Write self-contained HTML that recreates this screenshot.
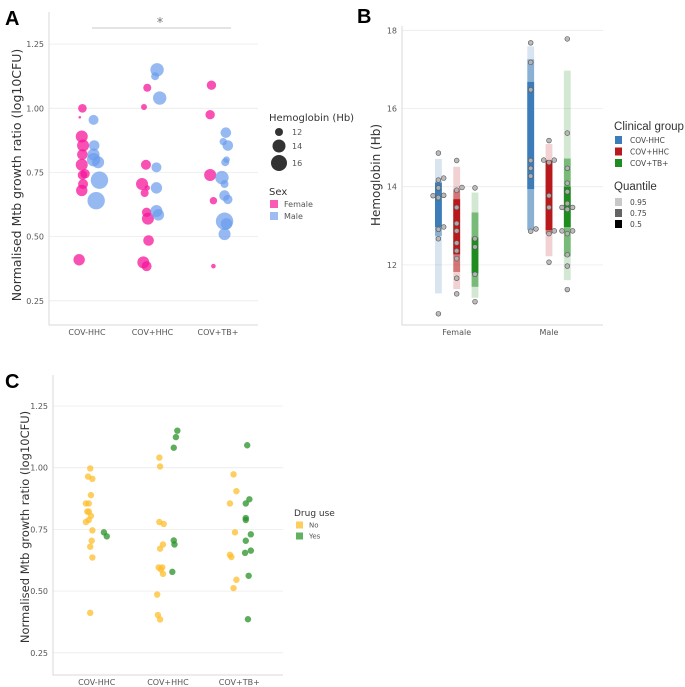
<!DOCTYPE html>
<html><head><meta charset="utf-8"><style>
body{margin:0;background:#fff;}
svg{display:block;font-family:"DejaVu Sans","Liberation Sans",sans-serif;}
.tick{font-size:8px;fill:#555;}
.grid{stroke:#ebebeb;stroke-width:0.8;}
.axis{stroke:#d9d9d9;stroke-width:1;}
</style></head><body>
<svg id="fig" width="685" height="687" viewBox="0 0 685 687">
<text x="5" y="25" font-size="20" font-weight="bold" font-family="Liberation Sans">A</text>
<text x="357" y="23" font-size="20" font-weight="bold" font-family="Liberation Sans">B</text>
<text x="5" y="388" font-size="20" font-weight="bold" font-family="Liberation Sans">C</text>
<g id="pa"></g>
<g id="pb"></g>
<g id="pc"></g>
</svg>
<script>
// ---------- Data ----------
const groups = ["COV-HHC","COV+HHC","COV+TB+"];
const yTicksA = [0.25,0.50,0.75,1.00,1.25];
// Panel A: group index, jitter (category units), value, Hb, sex
const aGroup = [0,0,0,0,0,0,0,0,0,0,0, 0,0,0,0,0,0,0, 1,1,1,1,1,1,1,1,1,1,1, 1,1,1,1,1,1,1, 2,2,2,2,2, 2,2,2,2,2,2,2,2,2,2,2,2];
const aJit = [-0.07,-0.11,-0.08,-0.06,-0.07,-0.08,-0.07,-0.03,-0.06,-0.08,-0.12, 0.1,0.11,0.1,0.1,0.17,0.19,0.14, -0.08,-0.13,-0.1,-0.16,-0.12,-0.08,-0.09,-0.07,-0.06,-0.14,-0.09, 0.07,0.04,0.11,0.06,0.06,0.06,0.09, -0.1,-0.12,-0.12,-0.07,-0.07, 0.12,0.08,0.15,0.11,0.13,0.06,0.1,0.1,0.15,0.1,0.13,0.1];
const aVal = [1.00,0.965,0.89,0.855,0.82,0.78,0.74,0.745,0.705,0.68,0.41, 0.955,0.855,0.82,0.80,0.79,0.72,0.64, 1.08,1.005,0.78,0.705,0.67,0.69,0.595,0.57,0.485,0.40,0.385, 1.15,1.125,1.04,0.77,0.69,0.60,0.585, 1.09,0.975,0.74,0.64,0.385, 0.905,0.87,0.855,0.79,0.80,0.73,0.705,0.66,0.645,0.56,0.55,0.51];
const aHb = [11.8,8.8,13.5,13.5,12.8,13.5,12.2,12.2,12.5,13.2,13.2, 12.5,12.8,13.5,14.2,13.5,16.2,16.2, 11.5,10.5,12.5,13.5,11.5,10.2,12.2,13.5,12.8,13.5,12.5, 14.2,11.5,14.2,12.5,13.2,13.5,13.2, 12.2,12.2,13.5,11.2,9.8, 12.8,11.2,12.8,11.5,10.8,14.2,11.5,12.8,12.2,16.2,13.2,13.5];
const aSex = "FFFFFFFFFFFMMMMMMMFFFFFFFFFFFMMMMMMMFFFFFMMMMMMMMMMMM";
const hbLegend = [12,14,16];
// Panel B
const sexes = ["Female","Male"];
const yTicksB = [12,14,16,18];
const quantiles = ["0.95","0.75","0.5"];
// quantile bands: [sex][group] -> [lo95,hi95,lo75,hi75,lo50,hi50]
const bands = [
 [[11.27,14.71,12.74,14.13,12.97,14.10],[11.38,14.51,11.82,13.93,12.27,13.68],[11.16,13.85,11.44,13.34,11.79,12.70]],
 [[12.89,17.59,12.89,17.26,13.94,16.68],[12.22,15.09,12.80,14.68,12.89,14.66],[11.61,16.97,12.22,14.72,12.97,14.00]]
];
const bSex = [0,0,0,0,0,0,0,0,0,0,0, 0,0,0,0,0,0,0,0,0,0,0, 0,0,0,0,0, 1,1,1,1,1,1,1,1, 1,1,1,1,1,1,1,1,1, 1,1,1,1,1,1,1,1,1,1,1,1,1,1,1];
const bGrp = [0,0,0,0,0,0,0,0,0,0,0, 1,1,1,1,1,1,1,1,1,1,1, 2,2,2,2,2, 0,0,0,0,0,0,0,0, 1,1,1,1,1,1,1,1,1, 2,2,2,2,2,2,2,2,2,2,2,2,2,2,2];
const bJit = [0,0,1,0,-1,0,1,0,1,0,0, 0,1,0,0,0,0,0,0,0,0,0, 0,0,0,0,0, 0,0,0,0,0,0,0,1, 0,-1,0,1,0,0,0,1,0, 0,0,0,0,0,0,-1,1,0,-1,1,0,0,0,0];
const bHb = [14.86,14.17,14.22,13.97,13.77,13.72,13.78,12.91,12.97,12.67,10.75, 14.67,13.98,13.91,13.47,13.06,12.87,12.56,12.36,12.16,11.66,11.26, 13.97,12.67,12.46,11.76,11.06, 17.68,17.18,16.48,14.67,14.47,14.27,12.86,12.92, 15.18,14.68,14.62,14.68,13.77,13.47,12.80,12.87,12.07, 17.78,15.37,14.47,14.09,13.87,13.57,13.47,13.47,13.42,12.87,12.87,12.80,12.26,11.97,11.37];
// Panel C
const drugLevels = ["No","Yes"];
const cGroup = [0,0,0,0,0,0,0,0,0,0,0,0,0,0,0,0, 0,0, 1,1,1,1,1,1,1,1,1,1,1,1,1, 1,1,1,1,1,1, 2,2,2,2,2,2,2,2, 2,2,2,2,2,2,2,2,2,2,2];
const cDrug = "NNNNNNNNNNNNNNNNYYNNNNNNNNNNNNNYYYYYYNNNNNNNNYYYYYYYYYYY";
const cJit = [-0.09,-0.12,-0.06,-0.08,-0.15,-0.11,-0.13,-0.11,-0.08,-0.11,-0.15,-0.06,-0.07,-0.09,-0.06,-0.09, 0.1,0.14, -0.12,-0.11,-0.12,-0.06,-0.07,-0.11,-0.13,-0.08,-0.10,-0.07,-0.15,-0.14,-0.11, 0.13,0.11,0.08,0.08,0.09,0.06, -0.08,-0.04,-0.13,-0.06,-0.13,-0.11,-0.04,-0.08, 0.11,0.14,0.09,0.09,0.09,0.16,0.09,0.16,0.08,0.13,0.12];
const cVal = [0.997,0.964,0.955,0.889,0.855,0.855,0.822,0.822,0.805,0.788,0.780,0.746,0.704,0.680,0.636,0.412, 0.738,0.722, 1.041,1.005,0.780,0.772,0.689,0.672,0.596,0.596,0.588,0.570,0.486,0.403,0.385, 1.150,1.124,1.081,0.705,0.689,0.578, 0.973,0.905,0.855,0.738,0.647,0.638,0.546,0.512, 1.091,0.872,0.855,0.796,0.788,0.730,0.704,0.664,0.655,0.562,0.386];

// ---------- helpers ----------
const NS="http://www.w3.org/2000/svg";
function mk(parent,tag,attrs,txt){const e=document.createElementNS(NS,tag);for(const k in attrs)e.setAttribute(k,attrs[k]);if(txt!==undefined)e.textContent=txt;parent.appendChild(e);return e;}

// ---------- Panel A ----------
(function(){
 const g=document.getElementById('pa');
 const L=49,R=258,T=12,B=325;
 const y=v=>108.3-(v-1.0)*256.7;
 const x=(i,j)=>87+i*65.5+j*65.5;
 yTicksA.forEach(t=>{
  const l=mk(g,'line',{x1:L,x2:R,y1:y(t),y2:y(t),class:'grid'});
  
  const tx=mk(g,'text',{x:L-5,y:y(t)+3,'text-anchor':'end',class:'tick'},t.toFixed(2));
  
 });
 let ax=mk(g,'path',{d:`M${L} ${T} V${B} H${R}`,fill:'none',class:'axis'});
 
 groups.forEach((c,i)=>{const t=mk(g,'text',{x:x(i,0),y:335,'text-anchor':'middle',class:'tick'},c);
  });
 const yt=mk(g,'text',{x:0,y:0,transform:'translate(21,175) rotate(-90)','text-anchor':'middle','font-size':'12.5',fill:'#333'},'Normalised Mtb growth ratio (log10CFU)');
 
 const sl=mk(g,'line',{x1:92,x2:231,y1:28,y2:28,stroke:'#c8c8c8','stroke-width':1});
 
 const st=mk(g,'text',{x:160,y:27,'text-anchor':'middle','font-size':'13',fill:'#777'},'*');
 
 const rad=h=>Math.max(1,4.5+(h-12));
 aVal.forEach((v,k)=>{
  const c=mk(g,'circle',{cx:x(aGroup[k],aJit[k]),cy:y(v),r:rad(aHb[k]),fill:aSex[k]==='F'?'#f5169a':'#6a9bec','fill-opacity':aSex[k]==='F'?0.75:0.7});
  
 });
 let t=mk(g,'text',{x:269,y:121,'font-size':'10',fill:'#333'},'Hemoglobin (Hb)');
 
 const ly=[132,146,163];
 hbLegend.forEach((h,i)=>{
  const c=mk(g,'circle',{cx:279,cy:ly[i],r:[4,6.5,8][i],fill:'#333'});
  
  const tx=mk(g,'text',{x:292,y:ly[i]+3,class:'tick'},h);
  
 });
 t=mk(g,'text',{x:269,y:195,'font-size':'10',fill:'#333'},'Sex');
 
 [['Female','#f95bb5',204],['Male','#9ebbf2',216]].forEach(s=>{
  const r=mk(g,'rect',{x:270,y:s[2]-4,width:8,height:8,fill:s[1]});
  
  const tx=mk(g,'text',{x:284,y:s[2]+3,class:'tick'},s[0]);
  
 });
})();

// ---------- Panel B ----------
(function(){
 const g=document.getElementById('pb');
 const L=402,R=603,T=26,B=325;
 const y=v=>186.7-(v-14)*39.1;
 const cols=['#3c7cb8','#b8191c','#1e8c1e'];
 const x=(s,gr)=>456.7+s*92.3+(gr-1)*18.3;
 yTicksB.forEach(t=>{
  const l=mk(g,'line',{x1:L,x2:R,y1:y(t),y2:y(t),class:'grid'});
  
  const tx=mk(g,'text',{x:L-5,y:y(t)+3,'text-anchor':'end',class:'tick'},t);
  
 });
 let ax=mk(g,'path',{d:`M${L} ${T} V${B} H${R}`,fill:'none',class:'axis'});
 
 sexes.forEach((s,i)=>{const t=mk(g,'text',{x:x(i,1),y:335,'text-anchor':'middle',class:'tick'},s);
  });
 const yt=mk(g,'text',{x:0,y:0,transform:'translate(380,175) rotate(-90)','text-anchor':'middle','font-size':'12',fill:'#333'},'Hemoglobin (Hb)');
 
 const ops=[0.2,0.5,1];
 bands.forEach((row,s)=>row.forEach((b,gr)=>{
  for(let q=0;q<3;q++){
   const lo=b[q*2],hi=b[q*2+1];
   const r=mk(g,'rect',{x:x(s,gr)-3.4,y:y(hi),width:6.8,height:y(lo)-y(hi),fill:cols[gr],'fill-opacity':ops[q]===1?1:ops[q]});
   
  }
 }));
 bHb.forEach((h,k)=>{
  const c=mk(g,'circle',{cx:x(bSex[k],bGrp[k])+bJit[k]*5.3,cy:y(h),r:2.4,fill:'#b4b4b4',stroke:'#555','stroke-width':0.6,'fill-opacity':0.9});
  
 });
 let t=mk(g,'text',{x:614,y:130,'font-size':'11.5','font-family':'Liberation Sans',fill:'#333',textLength:70,lengthAdjust:'spacingAndGlyphs'},'Clinical group');
 
 groups.forEach((gname,i)=>{
  const r=mk(g,'rect',{x:615,y:136+i*11.5,width:7,height:8,fill:cols[i]});
  
  const tx=mk(g,'text',{x:630,y:143+i*11.5,'font-size':'7.5',fill:'#444'},gname);
  
 });
 t=mk(g,'text',{x:614,y:190,'font-size':'11.5','font-family':'Liberation Sans',fill:'#333'},'Quantile');
 
 const qc=['#c8c8c8','#646464','#000'];
 quantiles.forEach((q,i)=>{
  const r=mk(g,'rect',{x:615,y:198+i*11,width:7,height:8,fill:qc[i]});
  
  const tx=mk(g,'text',{x:630,y:205+i*11,'font-size':'7.5',fill:'#444'},q);
  
 });
})();

// ---------- Panel C ----------
(function(){
 const g=document.getElementById('pc');
 const L=53,R=283,T=375,B=675;
 const y=v=>467.7-(v-1.0)*246.8;
 const x=(i,j)=>96.7+i*71.3+j*72;
 yTicksA.forEach(t=>{
  const l=mk(g,'line',{x1:L,x2:R,y1:y(t),y2:y(t),class:'grid'});
  
  const tx=mk(g,'text',{x:L-5,y:y(t)+3,'text-anchor':'end',class:'tick'},t.toFixed(2));
  
 });
 let ax=mk(g,'path',{d:`M${L} ${T} V${B} H${R}`,fill:'none',class:'axis'});
 
 groups.forEach((c,i)=>{const t=mk(g,'text',{x:x(i,0),y:685,'text-anchor':'middle',class:'tick'},c);
  });
 const yt=mk(g,'text',{x:0,y:0,transform:'translate(29,527) rotate(-90)','text-anchor':'middle','font-size':'11.5',fill:'#333'},'Normalised Mtb growth ratio (log10CFU)');
 
 cVal.forEach((v,k)=>{
  const c=mk(g,'circle',{cx:x(cGroup[k],cJit[k]),cy:y(v),r:3.2,fill:cDrug[k]==='N'?'#fdbe2c':'#279127','fill-opacity':0.75});
  
 });
 let t=mk(g,'text',{x:294,y:516,'font-size':'9',fill:'#333'},'Drug use');
 
 [['#fdcd5e',525],['#62b162',536]].forEach((s,i)=>{
  const r=mk(g,'rect',{x:296,y:s[1]-3.5,width:7,height:7,fill:s[0]});
  
  const tx=mk(g,'text',{x:309,y:s[1]+2.5,'font-size':'7',fill:'#555'},drugLevels[i]);
  
 });
})();
</script>
</body></html>
